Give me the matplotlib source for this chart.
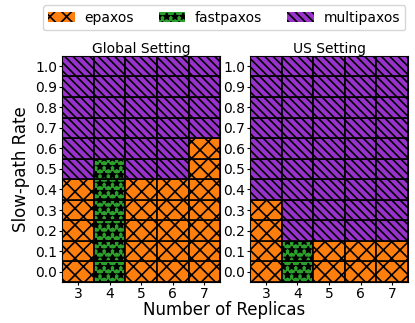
import numpy as np
import matplotlib.pyplot as plt

# Best protocol per (replicas, slow-path rate) cell
replicas = [3, 4, 5, 6, 7]
rates = [0.0, 0.1, 0.2, 0.3, 0.4, 0.5, 0.6, 0.7, 0.8, 0.9, 1.0]
protocols = ['epaxos', 'fastpaxos', 'multipaxos']

# highest rate at which the fast protocol (epaxos / fastpaxos) still wins
global_fast = ['epaxos', 'fastpaxos', 'epaxos', 'epaxos', 'epaxos']
global_limit = [0.4, 0.5, 0.4, 0.4, 0.6]
us_fast = ['epaxos', 'fastpaxos', 'epaxos', 'epaxos', 'epaxos']
us_limit = [0.3, 0.1, 0.1, 0.1, 0.1]

styles = {
    'epaxos': dict(color='#ff7f0e', hatch='xx'),
    'fastpaxos': dict(color='#2ca02c', hatch='**'),
    'multipaxos': dict(color='#9932cc', hatch='\\\\\\\\'),
}

plt.rcParams['hatch.linewidth'] = 1.2

fig, axes = plt.subplots(1, 2, figsize=(4.15, 3.23), dpi=100)
fig.subplots_adjust(left=0.15, right=0.983, top=0.827, bottom=0.127, wspace=0.19)


def draw_panel(ax, fast, limit, title):
    for i, n in enumerate(replicas):
        for r in rates:
            name = fast[i] if r <= limit[i] + 1e-9 else 'multipaxos'
            ax.bar(n, 0.1, width=1.0, bottom=r - 0.05,
                   color=styles[name]['color'], hatch=styles[name]['hatch'],
                   edgecolor='black', linewidth=1.2)
    ax.set_xlim(2.5, 7.5)
    ax.set_ylim(-0.05, 1.05)
    ax.set_xticks(replicas)
    ax.set_yticks(rates)
    ax.set_yticklabels(['%.1f' % r for r in rates])
    ax.tick_params(labelsize=10, length=2, pad=1.5)
    ax.set_title(title, fontsize=10, pad=2)


draw_panel(axes[0], global_fast, global_limit, 'Global Setting')
draw_panel(axes[1], us_fast, us_limit, 'US Setting')

axes[0].set_ylabel('Slow-path Rate', fontsize=12, labelpad=4)
fig.text(0.539, 0.025, 'Number of Replicas', ha='center', va='baseline', fontsize=12)

handles = [plt.Rectangle((0, 0), 1, 1, facecolor=styles[p]['color'],
                         hatch=styles[p]['hatch'], edgecolor='black', linewidth=0)
           for p in protocols]
fig.legend(handles, protocols, loc='upper center', ncol=3, fontsize=10,
           bbox_to_anchor=(0.54, 1.005), columnspacing=1.8, handlelength=1.9,
           handletextpad=0.7)

fig.savefig('out.png')
